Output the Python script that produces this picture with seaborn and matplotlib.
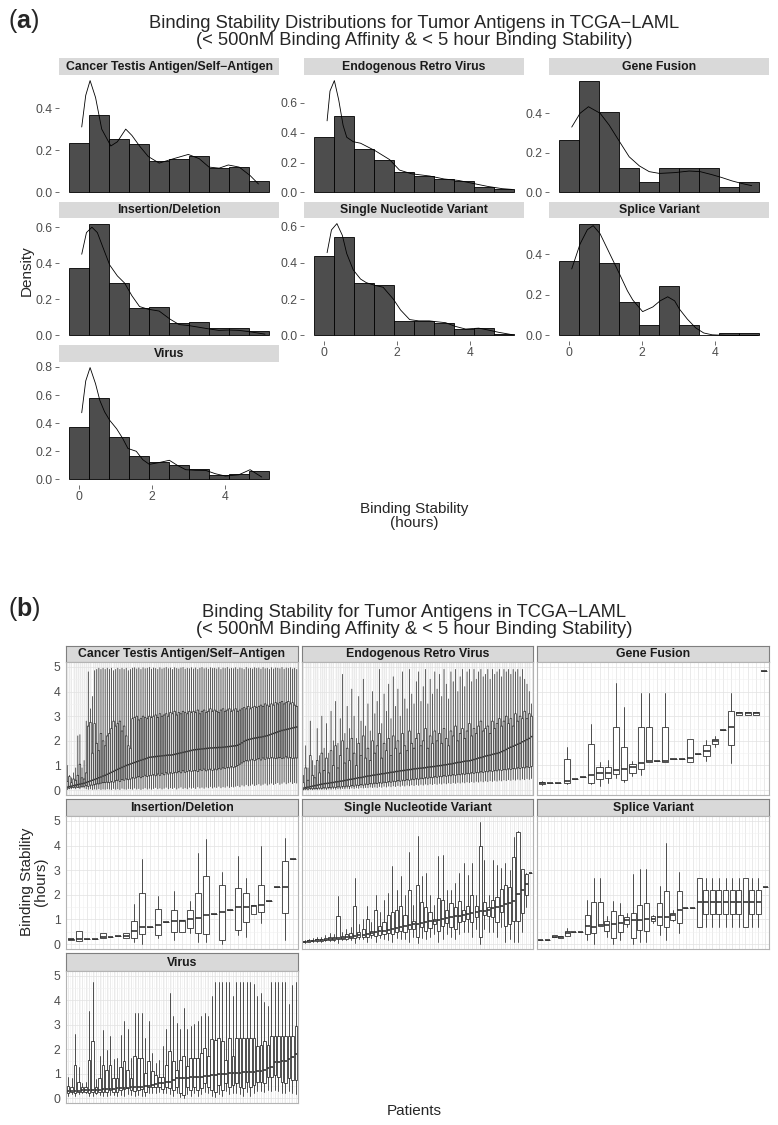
import matplotlib
matplotlib.use("Agg")
import matplotlib.pyplot as plt
import seaborn as sns
from matplotlib.ticker import MultipleLocator, FormatStrFormatter

sns.set_style("white")
plt.rcParams['font.family'] = ['Liberation Sans', 'DejaVu Sans']
plt.rcParams['mathtext.fontset'] = 'custom'
plt.rcParams['mathtext.rm'] = 'Liberation Sans'
plt.rcParams['mathtext.bf'] = 'Liberation Sans:bold'

facets = ["Cancer Testis Antigen/Self\u2212Antigen", "Endogenous Retro Virus", "Gene Fusion",
          "Insertion/Deletion", "Single Nucleotide Variant", "Splice Variant", "Virus"]

# ---- panel (a): histogram densities (10 bins) + kde curves ----
bin_edges = [-0.28, 0.27, 0.82, 1.37, 1.92, 2.47, 3.02, 3.57, 4.12, 4.67, 5.22]

dens_cta = [0.234, 0.368, 0.254, 0.231, 0.147, 0.160, 0.174, 0.116, 0.122, 0.052]
dens_erv = [0.372, 0.515, 0.291, 0.219, 0.137, 0.107, 0.090, 0.074, 0.036, 0.023]
dens_gf = [0.266, 0.565, 0.405, 0.121, 0.052, 0.121, 0.121, 0.121, 0.028, 0.052]
dens_indel = [0.372, 0.62, 0.29, 0.151, 0.16, 0.068, 0.075, 0.04, 0.042, 0.024]
dens_snv = [0.435, 0.54, 0.29, 0.278, 0.081, 0.078, 0.069, 0.035, 0.041, 0.009]
dens_splice = [0.366, 0.55, 0.356, 0.165, 0.053, 0.245, 0.053, 0.0, 0.012, 0.012]
dens_virus = [0.374, 0.576, 0.302, 0.167, 0.124, 0.1, 0.076, 0.029, 0.036, 0.06]

kde_x_cta = [0.07, 0.18, 0.3, 0.45, 0.62, 0.87, 1.05, 1.28, 1.45, 1.66, 1.9, 2.2, 2.6, 3.0, 3.3, 3.57, 3.85, 4.1, 4.4, 4.7, 4.93]
kde_y_cta = [0.31, 0.46, 0.53, 0.45, 0.3, 0.22, 0.24, 0.30, 0.27, 0.22, 0.17, 0.139, 0.16, 0.18, 0.16, 0.12, 0.115, 0.13, 0.12, 0.08, 0.04]
kde_x_erv = [0.08, 0.16, 0.28, 0.4, 0.52, 0.62, 0.8, 1.0, 1.16, 1.4, 1.6, 1.8, 2.07, 2.4, 2.9, 3.3, 3.7, 4.1, 4.5, 4.9, 5.17]
kde_y_erv = [0.48, 0.68, 0.75, 0.62, 0.45, 0.37, 0.34, 0.33, 0.31, 0.28, 0.25, 0.22, 0.15, 0.125, 0.11, 0.09, 0.08, 0.06, 0.04, 0.025, 0.02]
kde_x_gf = [0.07, 0.3, 0.53, 0.85, 1.1, 1.39, 1.65, 1.93, 2.2, 2.48, 2.9, 3.3, 3.6, 3.92, 4.2, 4.48, 4.75, 5.02]
kde_y_gf = [0.33, 0.40, 0.433, 0.40, 0.34, 0.255, 0.18, 0.134, 0.105, 0.096, 0.10, 0.108, 0.105, 0.09, 0.075, 0.058, 0.045, 0.034]
kde_x_indel = [0.07, 0.2, 0.35, 0.5, 0.65, 0.84, 1.05, 1.25, 1.45, 1.66, 1.9, 2.2, 2.5, 2.75, 3.0, 3.3, 3.6, 3.84, 4.1, 4.39, 4.7, 5.11]
kde_y_indel = [0.45, 0.57, 0.60, 0.57, 0.49, 0.39, 0.33, 0.29, 0.22, 0.16, 0.145, 0.135, 0.09, 0.06, 0.055, 0.045, 0.035, 0.028, 0.03, 0.028, 0.02, 0.007]
kde_x_snv = [0.08, 0.2, 0.35, 0.5, 0.62, 0.8, 1.0, 1.16, 1.4, 1.62, 1.9, 2.1, 2.35, 2.6, 2.89, 3.1, 3.34, 3.6, 3.89, 4.25, 4.5, 4.8, 5.17]
kde_y_snv = [0.455, 0.58, 0.615, 0.55, 0.45, 0.36, 0.31, 0.29, 0.275, 0.265, 0.20, 0.14, 0.087, 0.08, 0.08, 0.075, 0.07, 0.05, 0.035, 0.04, 0.03, 0.017, 0.004]
kde_x_splice = [0.07, 0.3, 0.5, 0.66, 0.85, 1.12, 1.39, 1.6, 1.75, 2.02, 2.3, 2.5, 2.71, 2.9, 3.03, 3.25, 3.48, 3.7, 3.93, 4.3, 4.84, 5.2]
kde_y_splice = [0.327, 0.45, 0.52, 0.54, 0.50, 0.40, 0.30, 0.22, 0.174, 0.117, 0.14, 0.17, 0.19, 0.17, 0.13, 0.08, 0.037, 0.012, 0.003, 0.0, 0.0, 0.0]
kde_x_virus = [0.07, 0.18, 0.3, 0.45, 0.57, 0.7, 0.84, 1.03, 1.2, 1.34, 1.57, 1.75, 1.93, 2.2, 2.48, 2.7, 2.93, 3.2, 3.48, 3.75, 4.02, 4.39, 4.7, 5.02]
kde_y_virus = [0.474, 0.70, 0.795, 0.68, 0.56, 0.48, 0.42, 0.36, 0.29, 0.22, 0.20, 0.14, 0.107, 0.12, 0.136, 0.10, 0.069, 0.065, 0.064, 0.04, 0.024, 0.033, 0.069, 0.017]

# ---- panel (b): per-patient box statistics (hours) ----
cta_lo = [0.02, 0.05, 0.05, 0.08, 0.05, 0.1, 0.05, 0.1, 0.08, 0.05,
          0.03, 0.05, 0.02, 0.04, 0.03, 0.05, 0.02, 0.04, 0.03, 0.05,
          0.04, 0.02, 0.06, 0.03, 0.05, 0.02, 0.07, 0.04, 0.03, 0.06,
          0.05, 0.03, 0.08, 0.04, 0.06, 0.02, 0.05, 0.09, 0.04, 0.07,
          0.03, 0.06, 0.1, 0.05, 0.08, 0.04, 0.07, 0.11, 0.05, 0.09,
          0.06, 0.1, 0.04, 0.08, 0.12, 0.06, 0.09, 0.05, 0.11, 0.07,
          0.1, 0.06, 0.13, 0.08, 0.11, 0.07, 0.12, 0.09, 0.14, 0.08,
          0.12, 0.1, 0.15, 0.09, 0.13, 0.11, 0.16, 0.1, 0.14, 0.12,
          0.15, 0.18, 0.13, 0.2, 0.16, 0.22, 0.17, 0.19, 0.24, 0.18,
          0.21, 0.25, 0.19, 0.23, 0.27, 0.2, 0.24, 0.28, 0.22, 0.26,
          0.3, 0.23, 0.27, 0.32, 0.25, 0.29, 0.33, 0.26, 0.3, 0.28]
cta_q1 = [0.05, 0.08, 0.1, 0.1, 0.12, 0.1, 0.12, 0.15, 0.15, 0.18,
          0.15, 0.2, 0.2, 0.22, 0.25, 0.25, 0.28, 0.3, 0.3, 0.32,
          0.3, 0.35, 0.32, 0.38, 0.4, 0.35, 0.42, 0.4, 0.45, 0.42,
          0.45, 0.5, 0.48, 0.52, 0.55, 0.5, 0.55, 0.6, 0.55, 0.58,
          0.6, 0.62, 0.58, 0.65, 0.6, 0.68, 0.62, 0.7, 0.65, 0.7,
          0.68, 0.72, 0.7, 0.75, 0.7, 0.78, 0.72, 0.75, 0.8, 0.76,
          0.78, 0.8, 0.75, 0.82, 0.8, 0.85, 0.78, 0.82, 0.85, 0.8,
          0.85, 0.82, 0.88, 0.85, 0.9, 0.88, 0.92, 0.9, 0.95, 0.92,
          0.95, 1.0, 1.05, 1.1, 1.15, 1.2, 1.18, 1.22, 1.25, 1.2,
          1.25, 1.28, 1.22, 1.3, 1.25, 1.3, 1.28, 1.32, 1.3, 1.28,
          1.3, 1.32, 1.28, 1.3, 1.35, 1.3, 1.32, 1.28, 1.3, 1.3]
cta_med = [0.12, 0.14, 0.16, 0.18, 0.2, 0.22, 0.24, 0.26, 0.28, 0.31,
           0.34, 0.37, 0.4, 0.43, 0.46, 0.5, 0.53, 0.57, 0.6, 0.64,
           0.68, 0.72, 0.76, 0.8, 0.84, 0.88, 0.92, 0.96, 1.0, 1.03,
           1.06, 1.09, 1.12, 1.15, 1.18, 1.21, 1.24, 1.27, 1.3, 1.33,
           1.34, 1.35, 1.36, 1.37, 1.38, 1.39, 1.4, 1.41, 1.42, 1.42,
           1.43, 1.45, 1.47, 1.49, 1.51, 1.53, 1.55, 1.57, 1.59, 1.61,
           1.63, 1.64, 1.65, 1.66, 1.67, 1.68, 1.69, 1.7, 1.71, 1.71,
           1.72, 1.72, 1.73, 1.73, 1.74, 1.75, 1.76, 1.77, 1.78, 1.79,
           1.8, 1.82, 1.86, 1.92, 1.98, 2.02, 2.05, 2.07, 2.09, 2.11,
           2.12, 2.14, 2.15, 2.17, 2.19, 2.21, 2.24, 2.27, 2.3, 2.33,
           2.36, 2.39, 2.42, 2.44, 2.46, 2.48, 2.5, 2.52, 2.54, 2.56]
cta_q3 = [0.35, 0.55, 0.3, 0.45, 0.4, 0.6, 1.05, 0.5, 0.45, 0.7,
          2.6, 2.75, 1.5, 2.7, 1.9, 1.6, 2.3, 2.0, 1.8, 2.2,
          2.3, 2.5, 2.8, 2.6, 2.7, 2.8, 2.4, 2.6, 2.2, 1.8,
          1.7, 2.9, 2.95, 3.0, 2.85, 2.9, 3.0, 2.95, 2.9, 3.0,
          2.95, 3.0, 3.05, 2.95, 3.1, 3.0, 3.05, 3.1, 3.0, 3.15,
          3.1, 3.2, 3.05, 3.15, 3.1, 3.2, 3.15, 3.1, 3.2, 3.15,
          3.2, 3.15, 3.25, 3.1, 3.2, 3.25, 3.15, 3.2, 3.3, 3.2,
          3.25, 3.2, 3.15, 3.25, 3.3, 3.2, 3.25, 3.3, 3.2, 3.25,
          3.3, 3.2, 3.25, 3.3, 3.35, 3.3, 3.4, 3.3, 3.35, 3.4,
          3.35, 3.4, 3.45, 3.4, 3.5, 3.45, 3.4, 3.5, 3.45, 3.55,
          3.5, 3.55, 3.6, 3.5, 3.55, 3.6, 3.5, 3.55, 3.45, 3.4]
cta_hi = [1.0, 0.6, 0.5, 0.7, 0.9, 2.2, 2.25, 0.9, 1.2, 2.8,
          4.8, 3.3, 3.8, 4.85, 4.9, 4.95, 4.9, 4.95, 4.9, 4.95,
          4.9, 4.95, 4.85, 4.9, 4.95, 4.9, 4.95, 4.9, 4.95, 4.85,
          4.9, 4.95, 4.97, 4.92, 4.96, 4.9, 4.97, 4.93, 4.95, 4.98,
          4.91, 4.96, 4.94, 4.9, 4.97, 4.92, 4.95, 4.98, 4.93, 4.96,
          4.9, 4.97, 4.94, 4.92, 4.96, 4.98, 4.91, 4.95, 4.93, 4.97,
          4.92, 4.96, 4.9, 4.95, 4.98, 4.93, 4.96, 4.91, 4.97, 4.94,
          4.95, 4.92, 4.97, 4.9, 4.96, 4.94, 4.98, 4.92, 4.95, 4.93,
          4.97, 4.91, 4.96, 4.94, 4.9, 4.98, 4.93, 4.95, 4.92, 4.97,
          4.94, 4.96, 4.91, 4.98, 4.93, 4.95, 4.9, 4.97, 4.92, 4.96,
          4.95, 4.93, 4.98, 4.91, 4.96, 4.94, 4.97, 4.92, 4.95, 4.9]

erv_lo = [0.0, 0.01, 0.0, 0.02, 0.01, 0.02, 0.01, 0.03, 0.02, 0.03,
          0.02, 0.04, 0.03, 0.05, 0.03, 0.05, 0.04, 0.06, 0.05, 0.07,
          0.05, 0.08, 0.06, 0.09, 0.07, 0.1, 0.08, 0.1, 0.09, 0.12,
          0.1, 0.12, 0.1, 0.14, 0.11, 0.15, 0.12, 0.16, 0.13, 0.17,
          0.14, 0.18, 0.15, 0.19, 0.16, 0.2, 0.17, 0.21, 0.18, 0.22,
          0.19, 0.23, 0.2, 0.24, 0.21, 0.25, 0.22, 0.26, 0.23, 0.27,
          0.24, 0.28, 0.25, 0.29, 0.26, 0.3, 0.27, 0.31, 0.28, 0.32,
          0.29, 0.33, 0.3, 0.34, 0.31, 0.35, 0.32, 0.36, 0.33, 0.37,
          0.34, 0.38, 0.35, 0.39, 0.36, 0.4, 0.37, 0.41, 0.38, 0.42,
          0.39, 0.43, 0.4, 0.44, 0.41, 0.45, 0.42, 0.46, 0.43, 0.47]
erv_q1 = [0.03, 0.05, 0.04, 0.06, 0.05, 0.07, 0.06, 0.08, 0.07, 0.09,
          0.08, 0.1, 0.09, 0.12, 0.1, 0.13, 0.12, 0.15, 0.13, 0.16,
          0.15, 0.18, 0.16, 0.2, 0.18, 0.22, 0.2, 0.24, 0.22, 0.26,
          0.25, 0.28, 0.26, 0.3, 0.28, 0.32, 0.3, 0.34, 0.32, 0.36,
          0.34, 0.38, 0.36, 0.4, 0.38, 0.42, 0.4, 0.44, 0.42, 0.46,
          0.44, 0.48, 0.46, 0.5, 0.48, 0.52, 0.5, 0.54, 0.52, 0.56,
          0.54, 0.58, 0.56, 0.6, 0.58, 0.62, 0.6, 0.64, 0.62, 0.66,
          0.64, 0.68, 0.66, 0.7, 0.68, 0.72, 0.7, 0.74, 0.72, 0.76,
          0.74, 0.78, 0.76, 0.8, 0.78, 0.82, 0.8, 0.84, 0.82, 0.86,
          0.84, 0.88, 0.86, 0.9, 0.88, 0.92, 0.9, 0.94, 0.92, 0.96]
erv_med = [0.08, 0.1, 0.12, 0.14, 0.16, 0.18, 0.2, 0.22, 0.24, 0.26,
           0.27, 0.28, 0.3, 0.31, 0.33, 0.34, 0.36, 0.37, 0.39, 0.41,
           0.43, 0.44, 0.46, 0.48, 0.5, 0.51, 0.53, 0.55, 0.57, 0.58,
           0.6, 0.61, 0.63, 0.64, 0.66, 0.67, 0.69, 0.7, 0.72, 0.73,
           0.75, 0.76, 0.78, 0.79, 0.8, 0.82, 0.83, 0.84, 0.86, 0.87,
           0.88, 0.89, 0.9, 0.91, 0.93, 0.94, 0.95, 0.96, 0.98, 0.99,
           1.0, 1.02, 1.03, 1.05, 1.06, 1.08, 1.1, 1.12, 1.13, 1.15,
           1.17, 1.18, 1.19, 1.21, 1.24, 1.27, 1.3, 1.32, 1.35, 1.38,
           1.4, 1.42, 1.45, 1.47, 1.49, 1.52, 1.56, 1.6, 1.65, 1.7,
           1.74, 1.78, 1.82, 1.86, 1.9, 1.96, 2.0, 2.05, 2.1, 2.17]
erv_q3 = [0.3, 0.9, 0.4, 1.4, 0.6, 0.5, 1.2, 0.7, 1.5, 0.8,
          1.3, 0.7, 1.6, 1.0, 1.8, 0.9, 1.4, 2.0, 1.1, 1.7,
          1.2, 2.1, 1.5, 1.0, 1.9, 1.4, 2.2, 1.3, 1.7, 1.2,
          2.0, 1.5, 1.8, 2.3, 1.3, 1.9, 1.6, 2.1, 1.4, 2.2,
          1.7, 2.0, 1.5, 2.3, 1.8, 1.6, 2.4, 1.9, 1.7, 2.1,
          2.3, 1.8, 2.0, 2.5, 1.7, 2.2, 1.9, 2.4, 2.0, 2.3,
          1.9, 2.5, 2.1, 1.8, 2.4, 2.2, 2.6, 2.0, 2.3, 2.5,
          2.1, 2.4, 2.7, 2.2, 2.5, 2.3, 2.6, 2.8, 2.4, 2.5,
          2.6, 2.3, 2.8, 2.5, 2.7, 2.9, 2.6, 2.8, 3.0, 2.7,
          2.9, 2.6, 3.1, 2.8, 3.0, 2.9, 3.2, 2.9, 3.1, 3.0]
erv_hi = [0.6, 1.8, 0.9, 2.8, 1.2, 1.0, 2.5, 1.4, 3.0, 1.7,
          2.7, 1.5, 3.2, 2.0, 3.6, 1.9, 2.9, 4.7, 2.3, 3.4,
          2.5, 4.1, 3.0, 2.1, 3.8, 2.8, 4.5, 2.6, 3.5, 2.4,
          4.0, 3.1, 3.6, 4.9, 2.7, 3.9, 3.2, 4.3, 2.9, 4.6,
          3.4, 4.1, 3.0, 4.8, 3.7, 3.3, 4.9, 3.9, 3.5, 4.4,
          4.8, 3.6, 4.2, 4.9, 3.5, 4.5, 3.9, 4.8, 4.1, 4.7,
          3.8, 4.9, 4.3, 3.7, 4.8, 4.4, 4.9, 4.0, 4.6, 4.9,
          4.2, 4.8, 4.9, 4.4, 4.9, 4.5, 4.8, 4.9, 4.6, 4.7,
          4.9, 4.5, 4.9, 4.7, 4.8, 4.9, 4.6, 4.9, 4.8, 4.9,
          4.7, 4.9, 4.8, 4.9, 4.6, 4.9, 4.5, 4.3, 4.0, 3.5]

gf_lo = [0.2, 0.3, 0.3, 0.24, 0.43, 0.54, 0.24, 0.18, 0.3, 0.47, 0.34, 0.57, 0.61, 1.15,
         1.18, 1.15, 1.25, 1.25, 1.14, 1.46, 1.19, 1.76, 2.44, 1.11, 3.05, 3.05, 3.05, 4.85]
gf_q1 = [0.25, 0.3, 0.3, 0.3, 0.43, 0.54, 0.3, 0.43, 0.47, 0.64, 0.41, 0.7, 0.84, 1.15,
         1.18, 1.15, 1.25, 1.25, 1.14, 1.46, 1.38, 1.87, 2.44, 1.83, 3.05, 3.05, 3.05, 4.85]
gf_med = [0.3, 0.3, 0.3, 0.38, 0.43, 0.54, 0.61, 0.68, 0.7, 0.81, 0.84, 0.92, 1.11, 1.18,
          1.18, 1.18, 1.25, 1.25, 1.31, 1.46, 1.6, 1.99, 2.44, 2.55, 3.12, 3.12, 3.12, 4.85]
gf_q3 = [0.34, 0.3, 0.3, 1.25, 0.43, 0.54, 1.86, 0.92, 0.95, 2.57, 1.73, 1.04, 2.55, 2.57,
         1.18, 2.55, 1.25, 1.25, 2.06, 1.46, 1.83, 2.09, 2.44, 3.22, 3.18, 3.18, 3.18, 4.85]
gf_hi = [0.36, 0.3, 0.3, 1.76, 0.43, 0.54, 2.68, 1.15, 1.22, 4.36, 3.36, 1.19, 3.93, 3.93,
         1.18, 3.93, 1.25, 1.25, 2.06, 1.46, 2.03, 2.2, 2.44, 3.93, 3.18, 3.18, 3.18, 4.85]

indel_lo = [0.17, 0.14, 0.2, 0.2, 0.23, 0.3, 0.34, 0.23, 0.1, 0.0, 0.71, 0.23, 0.89, 0.16, 0.51,
            0.44, 0.1, 0.1, 1.22, 0.0, 1.37, 0.37, 0.3, 1.23, 0.85, 1.74, 2.33, 0.16, 3.45]
indel_q1 = [0.17, 0.14, 0.2, 0.2, 0.23, 0.3, 0.34, 0.23, 0.23, 0.41, 0.71, 0.37, 0.89, 0.47, 0.51,
            0.64, 0.44, 0.41, 1.22, 0.16, 1.37, 0.58, 0.88, 1.23, 1.29, 1.74, 2.33, 1.26, 3.45]
indel_med = [0.19, 0.2, 0.2, 0.2, 0.3, 0.3, 0.34, 0.34, 0.53, 0.68, 0.71, 0.77, 0.89, 0.92, 0.92,
             1.01, 1.04, 1.19, 1.22, 1.3, 1.37, 1.49, 1.49, 1.56, 1.6, 1.74, 2.33, 2.33, 3.45]
indel_q3 = [0.21, 0.53, 0.2, 0.2, 0.44, 0.3, 0.34, 0.44, 0.92, 2.08, 0.71, 1.42, 0.89, 1.37, 0.96,
            1.37, 2.08, 2.77, 1.22, 2.38, 1.37, 2.27, 2.08, 1.6, 2.38, 1.74, 2.33, 3.38, 3.45]
indel_hi = [0.21, 0.53, 0.2, 0.2, 0.44, 0.3, 0.34, 0.44, 1.64, 3.45, 0.71, 1.95, 0.89, 2.15, 0.96,
            1.74, 3.7, 4.27, 1.22, 2.93, 1.37, 3.56, 2.7, 1.6, 4.0, 1.74, 2.33, 4.32, 3.45]

snv_lo = [0.05, 0.07, 0.08, 0.1, 0.1, 0.12, 0.12, 0.14, 0.05, 0.15,
          0.15, 0.18, 0.05, 0.2, 0.2, 0.1, 0.25, 0.08, 0.25, 0.2,
          0.15, 0.1, 0.25, 0.2, 0.2, 0.1, 0.3, 0.05, 0.25, 0.2,
          0.3, 0.4, 0.1, 0.2, 0.4, 0.3, 0.2, 0.4, 0.5, 0.5,
          0.3, 0.6, 0.02, 0.6, 0.5, 0.5, 0.3, 0.7, 0.1, 0.2,
          0.1, 0.1, 0.5, 1.5, 2.87]
snv_q1 = [0.08, 0.1, 0.11, 0.12, 0.14, 0.15, 0.17, 0.18, 0.19, 0.2,
          0.22, 0.23, 0.25, 0.27, 0.3, 0.28, 0.35, 0.32, 0.38, 0.4,
          0.45, 0.42, 0.5, 0.55, 0.48, 0.62, 0.6, 0.3, 0.7, 0.55,
          0.65, 0.8, 0.55, 0.75, 0.85, 0.7, 0.6, 0.9, 0.95, 1.0,
          0.9, 1.1, 0.3, 1.2, 1.15, 1.1, 0.9, 1.3, 0.75, 0.8,
          0.92, 0.92, 1.26, 2.0, 2.87]
snv_med = [0.1, 0.12, 0.13, 0.15, 0.17, 0.18, 0.2, 0.22, 0.24, 0.26,
           0.28, 0.3, 0.33, 0.36, 0.38, 0.4, 0.44, 0.48, 0.52, 0.55,
           0.58, 0.62, 0.66, 0.7, 0.74, 0.78, 0.8, 0.82, 0.85, 0.88,
           0.92, 0.95, 0.98, 1.01, 1.05, 1.08, 1.12, 1.16, 1.2, 1.23,
           1.27, 1.3, 1.33, 1.36, 1.4, 1.45, 1.5, 1.55, 1.62, 1.68,
           1.73, 2.05, 2.2, 2.42, 2.87]
snv_q3 = [0.12, 0.15, 0.16, 0.2, 0.22, 0.25, 0.3, 0.28, 1.12, 0.32,
          0.4, 0.45, 1.53, 0.5, 0.62, 1.0, 0.55, 1.4, 0.75, 0.9,
          1.2, 1.3, 1.4, 1.55, 1.2, 2.21, 0.95, 2.4, 1.7, 1.5,
          1.3, 1.0, 1.87, 1.8, 1.4, 1.65, 1.5, 1.75, 1.4, 1.55,
          2.0, 1.55, 3.99, 1.7, 1.5, 1.8, 1.9, 2.25, 2.4, 2.3,
          3.52, 4.56, 3.05, 2.83, 2.87]
snv_hi = [0.15, 0.2, 0.25, 0.3, 0.3, 0.35, 0.45, 0.4, 1.95, 0.5,
          0.6, 0.7, 2.7, 0.8, 1.0, 1.53, 0.9, 2.0, 1.3, 1.8,
          2.07, 3.17, 2.2, 2.76, 2.0, 3.72, 1.6, 4.4, 2.76, 2.9,
          2.0, 1.6, 3.58, 3.6, 2.2, 2.2, 2.5, 2.9, 3.3, 2.8,
          3.3, 2.0, 4.95, 3.4, 2.0, 3.4, 3.2, 3.1, 3.3, 3.0,
          4.33, 4.6, 3.05, 2.9, 2.87]

splice_lo = [0.16, 0.18, 0.27, 0.26, 0.33, 0.48, 0.48, 0.16, 0.0, 0.74,
             0.3, 0.0, 0.16, 0.71, 0.0, 0.1, 0.1, 0.85, 0.37, 0.16,
             0.92, 0.46, 1.46, 1.46, 0.71, 0.71, 0.71, 0.71, 0.71, 0.71,
             0.71, 0.71, 0.71, 0.71, 2.32]
splice_q1 = [0.16, 0.18, 0.27, 0.26, 0.33, 0.48, 0.48, 0.41, 0.46, 0.74,
             0.53, 0.23, 0.51, 0.82, 0.23, 0.57, 0.55, 0.92, 0.78, 0.68,
             0.98, 0.87, 1.46, 1.46, 0.71, 1.23, 1.23, 1.23, 1.23, 1.23,
             1.23, 0.71, 1.23, 1.23, 2.32]
splice_med = [0.16, 0.18, 0.3, 0.28, 0.44, 0.48, 0.48, 0.75, 0.71, 0.78,
              0.78, 0.82, 0.85, 0.98, 0.98, 0.98, 1.01, 1.01, 1.08, 1.08,
              1.19, 1.39, 1.46, 1.46, 1.71, 1.71, 1.71, 1.71, 1.71, 1.71,
              1.71, 1.71, 1.71, 1.71, 2.32]
splice_q3 = [0.16, 0.18, 0.37, 0.34, 0.55, 0.48, 0.48, 1.19, 1.69, 1.69,
             0.94, 1.33, 1.19, 1.08, 1.26, 1.57, 1.67, 1.12, 1.67, 2.14,
             1.28, 2.14, 1.46, 1.46, 2.69, 2.19, 2.19, 2.19, 2.19, 2.19,
             2.19, 2.69, 2.19, 2.19, 2.32]
splice_hi = [0.16, 0.18, 0.37, 0.34, 0.64, 0.48, 0.48, 1.8, 2.69, 2.69,
             1.12, 1.73, 1.67, 1.26, 2.83, 3.03, 3.03, 1.19, 2.35, 4.1,
             1.39, 2.92, 1.46, 1.46, 2.69, 2.69, 2.69, 2.69, 2.69, 2.69,
             2.69, 2.69, 2.69, 2.69, 2.32]

virus_lo = [0.1, 0.15, 0.1, 0.15, 0.2, 0.2, 0.1, 0.1, 0.15, 0.12,
            0.1, 0.1, 0.12, 0.12, 0.1, 0.12, 0.1, 0.15, 0.12, 0.1,
            0.12, 0.1, 0.1, 0.2, 0.2, 0.2, 0.25, 0.2, 0.2, 0.15,
            0.1, 0.2, 0.05, 0.02, 0.15, 0.1, 0.2, 0.1, 0.15, 0.25,
            0.2, 0.1, 0.05, 0.15, 0.1, 0.3, 0.15, 0.2, 0.2, 0.15,
            0.1, 0.25, 0.1, 0.2, 0.3, 0.3, 0.25, 0.35, 0.3, 0.35,
            0.3, 0.2, 0.2, 0.3, 0.2, 0.15]
virus_q1 = [0.22, 0.26, 0.19, 0.26, 0.26, 0.26, 0.19, 0.26, 0.22, 0.26,
            0.26, 0.26, 0.33, 0.26, 0.26, 0.33, 0.36, 0.4, 0.33, 0.29,
            0.33, 0.36, 0.26, 0.47, 0.45, 0.44, 0.47, 0.36, 0.44, 0.4,
            0.33, 0.47, 0.19, 0.12, 0.47, 0.33, 0.47, 0.33, 0.4, 0.61,
            0.47, 0.33, 0.26, 0.54, 0.33, 0.61, 0.47, 0.54, 0.61, 0.47,
            0.4, 0.67, 0.44, 0.54, 0.67, 0.67, 0.61, 0.88, 0.88, 0.95,
            0.88, 0.67, 0.61, 0.81, 0.74, 0.74]
virus_med = [0.29, 0.3, 0.3, 0.31, 0.32, 0.32, 0.33, 0.33, 0.34, 0.35,
             0.36, 0.37, 0.38, 0.39, 0.4, 0.41, 0.42, 0.43, 0.44, 0.45,
             0.46, 0.47, 0.48, 0.5, 0.55, 0.57, 0.6, 0.62, 0.64, 0.67,
             0.75, 0.81, 0.82, 0.83, 0.84, 0.85, 0.86, 0.87, 0.88, 0.9,
             0.92, 0.94, 0.95, 0.97, 0.98, 1.0, 1.01, 1.02, 1.03, 1.04,
             1.05, 1.06, 1.07, 1.08, 1.1, 1.12, 1.16, 1.25, 1.28, 1.48,
             1.49, 1.5, 1.52, 1.6, 1.7, 1.82]
virus_q3 = [0.5, 0.47, 1.36, 0.67, 0.47, 0.47, 1.57, 2.33, 0.47, 0.81,
            1.36, 1.16, 1.36, 0.81, 0.81, 1.29, 1.5, 1.16, 0.81, 1.71,
            1.64, 1.64, 1.02, 1.5, 1.09, 0.95, 0.88, 0.88, 1.36, 1.91,
            1.5, 1.16, 1.57, 1.71, 1.32, 1.64, 1.64, 1.64, 1.85, 2.05,
            1.71, 2.4, 2.36, 2.47, 2.33, 1.57, 2.47, 1.71, 2.47, 2.47,
            2.47, 2.47, 2.47, 2.47, 2.12, 2.19, 2.33, 2.19, 2.53, 2.53,
            2.53, 2.53, 2.53, 2.53, 2.53, 2.95]
virus_hi = [0.88, 0.81, 2.63, 1.29, 0.6, 0.65, 3.57, 4.74, 0.8, 1.71,
            2.77, 1.98, 2.53, 1.6, 1.64, 2.6, 3.15, 2.81, 1.64, 3.5,
            3.47, 3.47, 2.47, 3.15, 1.85, 1.43, 1.57, 2.12, 2.81, 4.32,
            3.36, 3.09, 2.81, 3.69, 2.81, 2.95, 3.02, 3.15, 3.36, 3.5,
            3.36, 4.19, 4.74, 4.74, 4.74, 4.74, 4.74, 4.19, 4.74, 4.74,
            4.74, 4.74, 4.74, 4.67, 4.19, 4.32, 3.94, 3.77, 4.74, 4.74,
            4.74, 4.74, 4.74, 3.84, 4.63, 4.74]

hist_data = [(dens_cta, kde_x_cta, kde_y_cta), (dens_erv, kde_x_erv, kde_y_erv),
             (dens_gf, kde_x_gf, kde_y_gf), (dens_indel, kde_x_indel, kde_y_indel),
             (dens_snv, kde_x_snv, kde_y_snv), (dens_splice, kde_x_splice, kde_y_splice),
             (dens_virus, kde_x_virus, kde_y_virus)]
box_data = [(cta_lo, cta_q1, cta_med, cta_q3, cta_hi),
            (erv_lo, erv_q1, erv_med, erv_q3, erv_hi),
            (gf_lo, gf_q1, gf_med, gf_q3, gf_hi),
            (indel_lo, indel_q1, indel_med, indel_q3, indel_hi),
            (snv_lo, snv_q1, snv_med, snv_q3, snv_hi),
            (splice_lo, splice_q1, splice_med, splice_q3, splice_hi),
            (virus_lo, virus_q1, virus_med, virus_q3, virus_hi)]

# ---- layout (pixels) ----
W, H = 778, 1125
fig = plt.figure(figsize=(W / 100, H / 100), dpi=100)


def px(x0, y0, x1, y1):
    return [x0 / W, 1 - y1 / H, (x1 - x0) / W, (y1 - y0) / H]


def strip(x0, y0, x1, y1, label, border):
    s = fig.add_axes(px(x0, y0, x1, y1))
    s.set_facecolor("#D9D9D9")
    s.set_xticks([])
    s.set_yticks([])
    for sp in s.spines.values():
        sp.set_visible(border)
        sp.set_color("#7F7F7F")
        sp.set_linewidth(0.8)
    s.text(0.5, 0.47, label, ha="center", va="center", fontsize=8.8,
           fontweight="bold", color="#1A1A1A", transform=s.transAxes)


TXT = "#4D4D4D"

# panel (a)
cols_a = [(59, 279), (304, 524), (549, 769)]
rows_a = [(58, 75, 198), (202, 218, 341), (345, 362, 485)]
x_axis_a = {4, 5, 6}
mids = [(a + b) / 2 for a, b in zip(bin_edges[:-1], bin_edges[1:])]

for k, name in enumerate(facets):
    r, c = divmod(k, 3)
    st, pt, pb = rows_a[r]
    x0, x1 = cols_a[c]
    strip(x0, st, x1, pt, name, False)
    ax = fig.add_axes(px(x0, pt, x1, pb))
    dens, kx, ky = hist_data[k]
    sns.histplot(x=mids, weights=dens, bins=bin_edges, stat="count", ax=ax,
                 color="#4D4D4D", edgecolor="black", linewidth=0.6, alpha=1)
    sns.lineplot(x=kx, y=ky, ax=ax, color="black", linewidth=0.6,
                 sort=False, estimator=None)
    top = max(max(dens), max(ky))
    ax.set_ylim(-0.05 * top, 1.05 * top)
    ax.set_xlim(-0.555, 5.495)
    ax.set_xlabel("")
    ax.set_ylabel("")
    for sp in ax.spines.values():
        sp.set_visible(False)
    ax.yaxis.set_major_locator(MultipleLocator(0.2))
    ax.yaxis.set_major_formatter(FormatStrFormatter("%.1f"))
    ax.tick_params(axis="y", left=True, length=3, width=0.5, color="#333333",
                   labelsize=8.8, labelcolor=TXT, pad=1.5)
    if k in x_axis_a:
        ax.set_xticks([0, 2, 4])
        ax.tick_params(axis="x", bottom=True, length=3, width=0.5, color="#333333",
                       labelsize=8.8, labelcolor=TXT, pad=1.5)
    else:
        ax.set_xticks([])

fig.text(8 / W, 1 - 21 / H, r"($\mathbf{a}$)", fontsize=18, va="center", ha="left")
fig.text(414 / W, 1 - 32 / H,
         "Binding Stability Distributions for Tumor Antigens in TCGA\u2212LAML\n"
         "(< 500nM Binding Affinity & < 5 hour Binding Stability)",
         fontsize=13.2, ha="center", va="center", linespacing=1.0)
fig.text(27 / W, 1 - 271 / H, "Density", rotation=90, fontsize=11, ha="center", va="center")
fig.text(414 / W, 1 - 516 / H, "Binding Stability\n(hours)", fontsize=11,
         ha="center", va="center", linespacing=1.0)

# panel (b)
cols_b = [(66, 298), (302, 533), (537, 769)]
rows_b = [(646, 662, 795), (799, 816, 949), (953, 971, 1103)]

for k, name in enumerate(facets):
    r, c = divmod(k, 3)
    st, pt, pb = rows_b[r]
    x0, x1 = cols_b[c]
    strip(x0, st, x1, pt, name, True)
    ax = fig.add_axes(px(x0, pt, x1, pb))
    lo, q1, med, q3, hi = box_data[k]
    n = len(med)
    stats = [dict(whislo=a, q1=b, med=m, q3=d, whishi=e)
             for a, b, m, d, e in zip(lo, q1, med, q3, hi)]
    dense = n > 90
    lw = 0.55 if dense else 0.6
    snap = False if dense else None
    ax.bxp(stats, positions=list(range(n)), widths=0.75, showfliers=False,
           showcaps=False, patch_artist=True,
           boxprops=dict(facecolor="white", edgecolor="#333333", linewidth=lw, snap=snap),
           whiskerprops=dict(color="#333333", linewidth=lw, snap=snap),
           medianprops=dict(color="#333333", linewidth=lw * 2, snap=snap))
    ax.set_xlim(-0.6, n - 0.4)
    ax.set_ylim(-0.2, 5.2)
    ax.set_facecolor("white")
    ax.set_axisbelow(True)
    ax.set_xticks(list(range(n)))
    ax.set_xticklabels([])
    ax.set_xticks([i + 0.5 for i in range(n - 1)], minor=True)
    ax.set_yticks([0, 1, 2, 3, 4, 5])
    ax.yaxis.set_minor_locator(MultipleLocator(0.5))
    ax.grid(True, which="major", color="#E2E2E2", linewidth=0.5)
    ax.grid(True, which="minor", color="#F1F1F1", linewidth=0.4)
    ax.tick_params(which="minor", length=0)
    ax.tick_params(axis="x", which="major", length=2.5, width=0.5, color="#4D4D4D")
    if c == 0:
        ax.tick_params(axis="y", which="major", length=2.5, width=0.5, color="#4D4D4D",
                       labelsize=8.8, labelcolor=TXT, pad=1.5)
    else:
        ax.tick_params(axis="y", which="major", length=0, labelleft=False)
    for sp in ax.spines.values():
        sp.set_color("#B3B3B3")
        sp.set_linewidth(0.8)

fig.text(8 / W, 1 - 609 / H, r"($\mathbf{b}$)", fontsize=18, va="center", ha="left")
fig.text(414 / W, 1 - 621 / H,
         "Binding Stability for Tumor Antigens in TCGA\u2212LAML\n"
         "(< 500nM Binding Affinity & < 5 hour Binding Stability)",
         fontsize=13.2, ha="center", va="center", linespacing=1.0)
fig.text(34 / W, 1 - 882 / H, "Binding Stability\n(hours)", rotation=90, fontsize=11,
         ha="center", va="center", linespacing=1.0)
fig.text(414 / W, 1 - 1111 / H, "Patients", fontsize=11, ha="center", va="center")

fig.savefig("out.png", dpi=100)
